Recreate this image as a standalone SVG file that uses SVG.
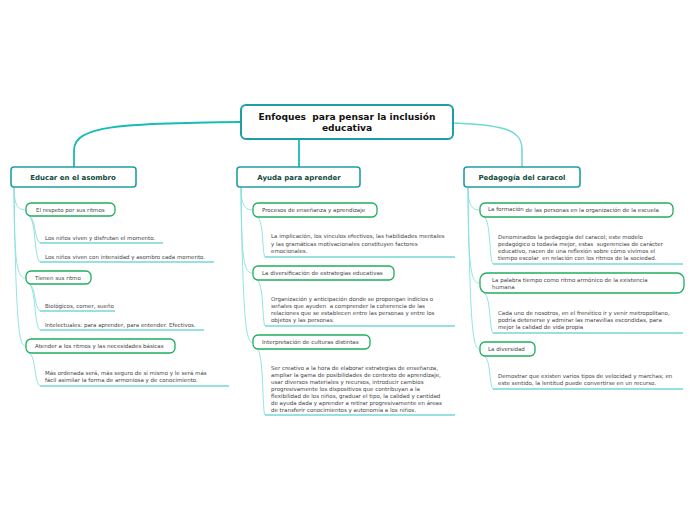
<svg xmlns="http://www.w3.org/2000/svg" width="696" height="520" viewBox="0 0 696 520">
<style>
text{font-family:"DejaVu Sans","Liberation Sans",sans-serif;white-space:pre}
.root{fill:#fff;stroke:#1f9ea2;stroke-width:2}
.rt{font-size:9.1px;font-weight:bold;fill:#111;text-anchor:middle}
.main{fill:#fff;stroke:#1f9ea2;stroke-width:1.6}
.mt{font-size:7px;font-weight:bold;fill:#124a42;text-anchor:middle}
.sub{fill:#fff;stroke:#1fae5e;stroke-width:1.3}
.st{font-size:5.5px;fill:#444}
.lt{font-size:5.5px;fill:#444}
.ul{stroke:#33c4c4;stroke-width:1.2;fill:none}
.c1{stroke:#17bdb4;stroke-width:1.8;fill:none}
.c2{stroke:#6fd8d3;stroke-width:1.5;fill:none}
.tr{stroke:#86e0dc;stroke-width:0.9;fill:none}
</style>
<g id="connectors">
<path class="c1" d="M241,122 C120,123 74,126 74,150 L74,167"/>
<path class="c1" d="M299,139 L299,167"/>
<path class="c2" d="M453,123 C510,125 522,132 522,150 L522,167"/>
<path class="tr" d="M14,187 C14,205 18,210 26,210"/>
<path class="tr" d="M14,187 C14,270 18,278 26,278"/>
<path class="tr" d="M14,187 C16,340 20,346 26,346"/>
<path class="tr" d="M29,216 C36,218 34,240 40,243"/>
<path class="tr" d="M29,216 C36,220 34,258 40,262"/>
<path class="tr" d="M29,284 C36,286 34,308 40,311"/>
<path class="tr" d="M29,284 C36,288 34,326 40,330"/>
<path class="tr" d="M29,353 C36,356 34,382 40,386"/>
<path class="tr" d="M241,187 C241,205 245,210 253,210"/>
<path class="tr" d="M241,187 C241,266 245,273 253,273"/>
<path class="tr" d="M241,187 C243,336 247,342 253,342"/>
<path class="tr" d="M257,217 C264,220 262,253 265,257"/>
<path class="tr" d="M257,280 C264,283 262,322 265,326"/>
<path class="tr" d="M257,349 C264,352 262,411 265,415"/>
<path class="tr" d="M468,187 C468,205 472,210 480,210"/>
<path class="tr" d="M468,187 C468,276 472,283 480,283"/>
<path class="tr" d="M468,187 C470,343 474,349 480,349"/>
<path class="tr" d="M484,217 C491,220 489,260 493,264"/>
<path class="tr" d="M484,293 C491,296 489,329 493,333"/>
<path class="tr" d="M484,356 C491,359 489,385 493,389"/>
</g>
<g id="root">
<rect class="root" x="241" y="105" width="212" height="34" rx="5"/>
<text class="rt" x="347" y="120">Enfoques  para pensar la inclusión</text>
<text class="rt" x="347" y="131">educativa</text>
</g>
<g id="educar">
<rect class="main" x="11" y="167" width="125" height="20" rx="3"/>
<text class="mt" x="73" y="180">Educar en el asombro</text>
</g>
<g id="ayuda">
<rect class="main" x="237" y="167" width="123" height="20" rx="3"/>
<text class="mt" x="299" y="180">Ayuda para aprender</text>
</g>
<g id="pedagogia">
<rect class="main" x="464" y="167" width="116" height="20" rx="3"/>
<text class="mt" x="522" y="180">Pedagogía del caracol</text>
</g>
<g id="respeto">
<rect class="sub" x="26" y="203" width="89" height="13" rx="5"/>
<text class="st" x="36" y="211.5">El respeto por sus ritmos</text>
</g>
<g id="leaf1">
<text class="lt" x="45" y="239.5">Los niños viven y disfrutan el momento.</text>
<line class="ul" x1="40" y1="243" x2="163" y2="243"/>
</g>
<g id="leaf2">
<text class="lt" x="45" y="258.5">Los niños viven con intensidad y asombro cada momento.</text>
<line class="ul" x1="40" y1="262" x2="214" y2="262"/>
</g>
<g id="tienen">
<rect class="sub" x="26" y="271" width="65" height="13" rx="5"/>
<text class="st" x="35" y="279.5">Tienen sus ritmo</text>
</g>
<g id="leaf3">
<text class="lt" x="45" y="307.5">Biológicos, comer, sueño</text>
<line class="ul" x1="40" y1="311" x2="115" y2="311"/>
</g>
<g id="leaf4">
<text class="lt" x="45" y="326.5">Intelectuales: para aprender, para entender. Efectivos.</text>
<line class="ul" x1="40" y1="330" x2="204" y2="330"/>
</g>
<g id="atender">
<rect class="sub" x="26" y="339" width="149" height="14" rx="5"/>
<text class="st" x="35" y="348">Atender a los ritmos y las necesidades básicas</text>
</g>
<g id="leaf5">
<text class="lt" x="45" y="375">Más ordenada será, más seguro de sí mismo y le será más</text>
<text class="lt" x="45" y="382">fácil asimilar la forma de armoniosa y de conocimiento.</text>
<line class="ul" x1="40" y1="386" x2="229" y2="386"/>
</g>
<g id="procesos">
<rect class="sub" x="253" y="203" width="124" height="14" rx="5"/>
<text class="st" x="262" y="212">Procesos de enseñanza y aprendizaje</text>
</g>
<g id="leaf6">
<text class="lt" x="271" y="238">La implicación, los vínculos efectivos, las habilidades mentales</text>
<text class="lt" x="271" y="245.5">y las gramáticas motivacionales constituyen factores</text>
<text class="lt" x="271" y="253">emocionales.</text>
<line class="ul" x1="265" y1="257" x2="455" y2="257"/>
</g>
<g id="diversificacion">
<rect class="sub" x="253" y="266" width="141" height="14" rx="5"/>
<text class="st" x="262" y="275">La diversificación de estrategias educativas</text>
</g>
<g id="leaf7">
<text class="lt" x="271" y="301">Organización y anticipación donde se propongan indicios o</text>
<text class="lt" x="271" y="308">señales que ayuden  a comprender la coherencia de las</text>
<text class="lt" x="271" y="315">relaciones que se establecen entre las personas y entre los</text>
<text class="lt" x="271" y="322">objetos y las personas.</text>
<line class="ul" x1="265" y1="326" x2="455" y2="326"/>
</g>
<g id="interpretacion">
<rect class="sub" x="253" y="335" width="117" height="14" rx="5"/>
<text class="st" x="262" y="344">Interpretación de culturas distintas</text>
</g>
<g id="leaf8">
<text class="lt" x="271" y="370">Ser creativo a la hora de elaborar estrategias de enseñanza,</text>
<text class="lt" x="271" y="377">ampliar la gama de posibilidades de contexto de aprendizaje,</text>
<text class="lt" x="271" y="384">usar diversos materiales y recursos, introducir cambios</text>
<text class="lt" x="271" y="391">progresivamente los dispositivos que contribuyan a la</text>
<text class="lt" x="271" y="398">flexibilidad de los niños, graduar el tipo, la calidad y cantidad</text>
<text class="lt" x="271" y="405">de ayuda dada y aprender a retirar progresivamente en áreas</text>
<text class="lt" x="271" y="411.5">de transferir conocimientos y autonomía a los niños.</text>
<line class="ul" x1="265" y1="415" x2="455" y2="415"/>
</g>
<g id="formacion">
<rect class="sub" x="480" y="203" width="193" height="14" rx="5"/>
<text class="st" x="488" y="211">La formación<tspan dy="1.3"> de las personas en la organización de la escuela</tspan></text>
</g>
<g id="leaf9">
<text class="lt" x="498" y="239">Denominados la pedagogía del caracol; este modelo</text>
<text class="lt" x="498" y="246">pedagógico o todavía mejor, estas  sugerencias de carácter</text>
<text class="lt" x="498" y="253">educativo, nacen de una reflexión sobre cómo vivimos el</text>
<text class="lt" x="498" y="259.5">tiempo escolar  en relación con los ritmos de la sociedad.</text>
<line class="ul" x1="493" y1="264" x2="683" y2="264"/>
</g>
<g id="palabra">
<rect class="sub" x="480" y="273" width="204" height="20" rx="7"/>
<text class="st" x="492" y="282">La palabra tiempo como ritmo armónico de la existencia</text>
<text class="st" x="492" y="289">humana</text>
</g>
<g id="leaf10">
<text class="lt" x="498" y="315">Cada uno de nosotros, en el frenético ir y venir metropolitano,</text>
<text class="lt" x="498" y="322">podría detenerse y admirar las maravillas escondidas, para</text>
<text class="lt" x="498" y="329">mejor la calidad de vida propia</text>
<line class="ul" x1="493" y1="333" x2="683" y2="333"/>
</g>
<g id="diversidad">
<rect class="sub" x="480" y="342" width="55" height="14" rx="5"/>
<text class="st" x="488" y="351">La diversidad</text>
</g>
<g id="leaf11">
<text class="lt" x="498" y="378">Demostrar que existen varios tipos de velocidad y marchas; en</text>
<text class="lt" x="498" y="385">este sentido, la lentitud puede convertirse en un recurso.</text>
<line class="ul" x1="493" y1="389" x2="683" y2="389"/>
</g>
</svg>
